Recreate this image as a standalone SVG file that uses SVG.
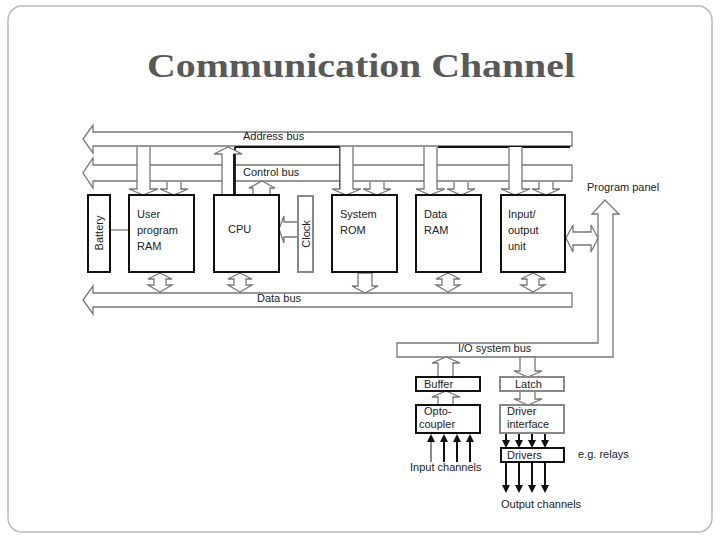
<svg xmlns="http://www.w3.org/2000/svg" width="720" height="540" viewBox="0 0 720 540">
<style>
.t{font-family:"Liberation Sans",Arial,sans-serif;font-size:11px;fill:#222}
.box{fill:#fff;stroke:#111;stroke-width:2}
.gbox{fill:#fff;stroke:#888;stroke-width:2}
.ar{fill:#fff;stroke:#777;stroke-width:1.3}
.k{fill:none;stroke:#111;stroke-width:1.8}
</style>
<defs>
<marker id="fa" markerWidth="8" markerHeight="8" refX="4" refY="4" orient="auto" markerUnits="userSpaceOnUse"><path d="M0,0L8,4L0,8Z" fill="#111"/></marker>
</defs>
<rect x="8" y="6" width="704" height="526" rx="14" fill="#fff" stroke="#bbb" stroke-width="1.5"/>
<text x="361" y="77" text-anchor="middle" font-family="Liberation Serif,serif" font-size="34" font-weight="bold" fill="#595959" textLength="428" lengthAdjust="spacingAndGlyphs">Communication Channel</text>
<g id="connectors">
<polygon class="ar" points="572,132 93,132 93,125 83,139 93,153 93,146 572,146"/>
<polygon class="ar" points="572,165 93,165 93,158 83,173 93,188 93,181 572,181"/>
<polygon class="ar" points="572,293 93,293 93,286 83,300 93,314 93,307 572,307"/>
<line x1="235" y1="147" x2="340" y2="147" class="k"/>
<line x1="438" y1="147" x2="570" y2="147" class="k"/>
<line x1="235" y1="147" x2="235" y2="195" class="k"/>
<line x1="340" y1="147" x2="340" y2="190" class="k"/>
<g id="drops">
<polyline class="ar" points="137,147 137,189 129,189 143,195 158,189 150,189 150,147"/>
<polyline class="ar" points="167,182 167,189 160,189 174,195 188,189 181,189 181,182"/>
<polyline class="ar" points="340,147 340,189 332,189 346,195 361,189 353,189 353,147"/>
<polyline class="ar" points="370,182 370,189 363,189 377,195 391,189 384,189 384,182"/>
<polyline class="ar" points="424,147 424,189 416,189 430,195 445,189 437,189 437,147"/>
<polyline class="ar" points="454,182 454,189 447,189 461,195 475,189 468,189 468,182"/>
<polyline class="ar" points="509,147 509,189 501,189 515,195 530,189 522,189 522,147"/>
<polyline class="ar" points="539,182 539,189 532,189 546,195 560,189 553,189 553,182"/>
</g>
<polygon class="ar" points="222,195 222,154 214,154 228,147 242,154 234,154 234,195"/>
<line x1="234" y1="154" x2="234" y2="195" class="k"/>
<polygon class="ar" points="253,195 253,188 249,188 262,181 275,188 270,188 270,195"/>
<polygon class="ar" points="298,222 284,222 284,216 279,229 284,243 284,237 298,237"/>
<line x1="110" y1="230" x2="129" y2="230" stroke="#777" stroke-width="1.3"/>
<polygon class="ar" points="160,273 172,279 166,279 166,285 172,285 160,292 148,285 154,285 154,279 148,279"/>
<polygon class="ar" points="240,273 252,279 246,279 246,285 252,285 240,292 228,285 234,285 234,279 228,279"/>
<polygon class="ar" points="358,273 358,286 352,286 365,293 378,286 372,286 372,273"/>
<polygon class="ar" points="448,273 460,279 454,279 454,285 460,285 448,292 436,285 442,285 442,279 436,279"/>
<polygon class="ar" points="533,273 545,279 539,279 539,285 545,285 533,292 521,285 527,285 527,279 521,279"/>
<polygon class="ar" points="566,238 573,225 573,232 591,232 591,225 598,238 591,252 591,245 573,245 573,252"/>
<polygon class="ar" points="397,343 598,343 598,214 592,214 605,200 619,214 613,214 613,357 397,357"/>
<polygon class="ar" points="438,377 438,363 432,363 446,357 460,363 453,363 453,377"/>
<polygon class="ar" points="520,357 520,371 514,371 528,377 542,371 535,371 535,357"/>
<polygon class="ar" points="438,405 438,397 432,397 446,391 460,397 453,397 453,405"/>
<polygon class="ar" points="520,391 520,399 514,399 528,405 542,399 535,399 535,391"/>
<g stroke="#111" stroke-width="2" marker-end="url(#fa)">
<line x1="431" y1="462" x2="431" y2="438" stroke="#888"/>
<line x1="444" y1="462" x2="444" y2="438"/>
<line x1="457" y1="462" x2="457" y2="438"/>
<line x1="470" y1="462" x2="470" y2="438"/>
<line x1="506" y1="434" x2="506" y2="444"/>
<line x1="519" y1="434" x2="519" y2="444"/>
<line x1="532" y1="434" x2="532" y2="444"/>
<line x1="545" y1="434" x2="545" y2="444"/>
<line x1="506" y1="462" x2="506" y2="489"/>
<line x1="519" y1="462" x2="519" y2="489"/>
<line x1="532" y1="462" x2="532" y2="489"/>
<line x1="545" y1="462" x2="545" y2="489"/>
</g>
</g>
<text class="t" x="243" y="140">Address bus</text>
<text class="t" x="243" y="176">Control bus</text>
<text class="t" x="257" y="302">Data bus</text>
<text class="t" x="458" y="352">I/O system bus</text>
<text class="t" x="587" y="191">Program panel</text>
<g id="battery"><rect class="box" x="88" y="195" width="22" height="77" stroke-width="1.5"/><text class="t" transform="translate(103,233) rotate(-90)" text-anchor="middle">Battery</text></g>
<g id="uram"><rect class="box" x="129" y="195" width="65" height="77"/><text class="t" x="137" y="218">User</text><text class="t" x="137" y="234">program</text><text class="t" x="137" y="250">RAM</text></g>
<g id="cpu"><rect class="box" x="214" y="195" width="65" height="77"/><text class="t" x="228" y="233">CPU</text></g>
<g id="clock"><rect class="gbox" x="298" y="196" width="15" height="76"/><text class="t" transform="translate(310,234) rotate(-90)" text-anchor="middle">Clock</text></g>
<g id="rom"><rect class="box" x="332" y="195" width="65" height="77"/><text class="t" x="340" y="218">System</text><text class="t" x="340" y="234">ROM</text></g>
<g id="dram"><rect class="box" x="416" y="195" width="65" height="77"/><text class="t" x="424" y="218">Data</text><text class="t" x="424" y="234">RAM</text></g>
<g id="iou"><rect class="box" x="501" y="195" width="64" height="77"/><text class="t" x="508" y="218">Input/</text><text class="t" x="508" y="234">output</text><text class="t" x="508" y="250">unit</text></g>
<g id="buffer"><rect class="box" x="416" y="377" width="64" height="14"/><text class="t" x="424" y="388">Buffer</text></g>
<g id="latch"><rect class="gbox" x="500" y="377" width="64" height="14"/><text class="t" x="515" y="388">Latch</text></g>
<g id="opto"><rect class="box" x="416" y="405" width="64" height="28" stroke-width="1.5"/><text class="t" x="424" y="415">Opto-</text><text class="t" x="419" y="428">coupler</text></g>
<g id="drvif"><rect class="gbox" x="500" y="405" width="64" height="28"/><text class="t" x="507" y="415">Driver</text><text class="t" x="507" y="428">interface</text></g>
<g id="drivers"><rect class="box" x="501" y="448" width="63" height="14" stroke-width="1.3"/><text class="t" x="507" y="459">Drivers</text></g>
<text class="t" x="578" y="458">e.g. relays</text>
<text class="t" x="410" y="471">Input channels</text>
<text class="t" x="501" y="508">Output channels</text>
</svg>
